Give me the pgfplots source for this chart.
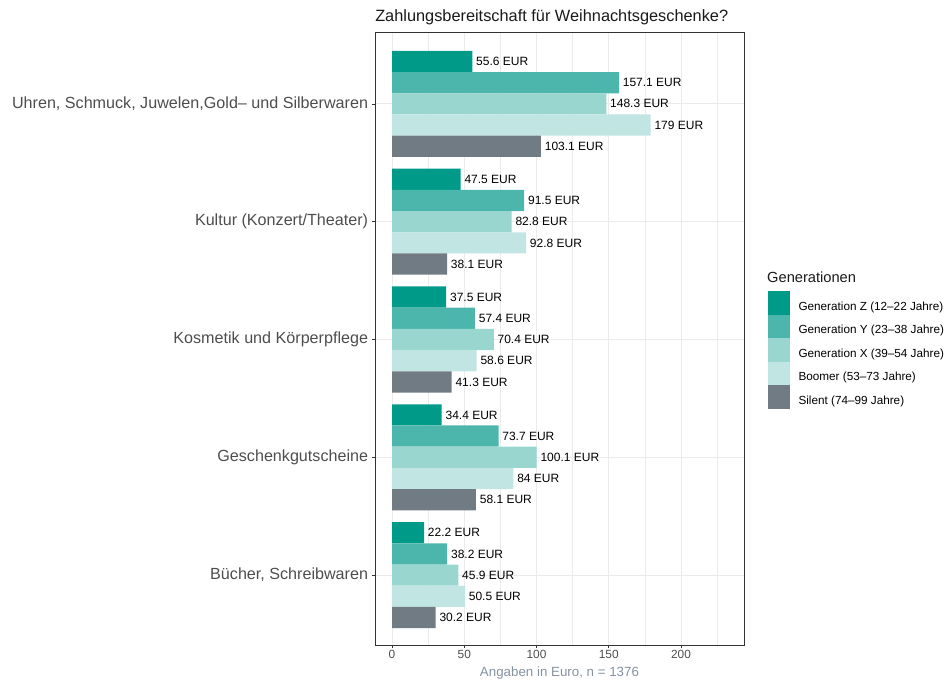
\documentclass[border=0pt]{standalone}
\usepackage{fontspec}
\setmainfont{Liberation Sans}
\usepackage{pgfplots}
\usepackage{pgfplotstable}
\pgfplotsset{compat=1.18}

\definecolor{genZ}{RGB}{0,154,136}
\definecolor{genY}{RGB}{76,182,172}
\definecolor{genX}{RGB}{153,214,207}
\definecolor{boomer}{RGB}{192,229,226}
\definecolor{silent}{RGB}{112,123,132}
\definecolor{gridgray}{RGB}{235,235,235}
\definecolor{ticktext}{RGB}{77,77,77}
\definecolor{xlabgray}{RGB}{133,146,160}

% pos: Buecher=1 ... Uhren=5
\pgfplotstableread{
pos Z     Y     X     B     S
1   22.2  38.2  45.9  50.5  30.2
2   34.4  73.7  100.1 84    58.1
3   37.5  57.4  70.4  58.6  41.3
4   47.5  91.5  82.8  92.8  38.1
5   55.6  157.1 148.3 179   103.1
}\spend

\begin{document}
\begin{tikzpicture}
\begin{axis}[
    at={(0,0)}, anchor=south west,
    scale only axis,
    width=276.75pt, height=459.75pt,
    xbar, bar width=0.18,
    xmin=-11.8, xmax=243.6,
    ymin=0.407, ymax=5.61,
    xtick={0,50,100,150,200},
    minor xtick={25,75,125,175,225},
    ytick={1,2,3,4,5},
    yticklabels={{Bücher, Schreibwaren},Geschenkgutscheine,{Kosmetik und Körperpflege},{Kultur (Konzert/Theater)},{Uhren, Schmuck, Juwelen,Gold– und Silberwaren}},
    xtick pos=bottom, ytick pos=left,
    tick align=outside,
    major tick length=2.6pt,
    minor tick length=0pt,
    tick style={color=black!80, line width=0.5pt},
    xmajorgrids, ymajorgrids, xminorgrids,
    major grid style={gridgray, line width=0.75pt},
    minor grid style={gridgray, line width=0.4pt},
    axis line style={black!80, line width=0.7pt},
    /pgf/number format/assume math mode=true,
    xticklabel style={font=\fontsize{8.9}{10}\selectfont, text=ticktext, inner sep=1pt},
    yticklabel style={font=\fontsize{12.1}{14}\selectfont, text=ticktext, inner sep=0pt, xshift=-2.4pt},
    xlabel={Angaben in Euro, n = 1376},
    xlabel style={at={(axis description cs:0.5,0)}, anchor=base, yshift=-23.3pt,
        font=\fontsize{10}{12}\selectfont, text=xlabgray},
    point meta=x,
    nodes near coords={\pgfmathprintnumber[fixed,precision=1]{\pgfplotspointmeta} EUR},
    nodes near coords style={font=\fontsize{9}{10}\selectfont, text=black, anchor=west, inner sep=2.7pt},
    legend style={at={(axis description cs:1,0.5775)}, anchor=north west, xshift=18pt,
        draw=none, fill=none, inner sep=0pt, outer sep=0pt, row sep=0pt,
        nodes={inner sep=0pt}, font=\fontsize{8.8}{10}\selectfont,
        /tikz/every odd column/.append style={column sep=6.6pt}},
    legend cell align=left,
    legend image code/.code={
        \path (0pt,-5.75pt) rectangle (16.3pt,11.95pt);
        \fill[#1,draw=none] (0pt,-5.15pt) rectangle (16.3pt,11.35pt);
    },
    clip=false,
]
\addplot[fill=genZ, draw=none, bar shift=0.36] table[x=Z, y=pos] {\spend};
\addlegendentry{Generation Z (12–22 Jahre)}
\addplot[fill=genY, draw=none, bar shift=0.18] table[x=Y, y=pos] {\spend};
\addlegendentry{Generation Y (23–38 Jahre)}
\addplot[fill=genX, draw=none, bar shift=0] table[x=X, y=pos] {\spend};
\addlegendentry{Generation X (39–54 Jahre)}
\addplot[fill=boomer, draw=none, bar shift=-0.18] table[x=B, y=pos] {\spend};
\addlegendentry{Boomer (53–73 Jahre)}
\addplot[fill=silent, draw=none, bar shift=-0.36] table[x=S, y=pos] {\spend};
\addlegendentry{Silent (74–99 Jahre)}

\coordinate (bl) at (rel axis cs:0,0);
\node[anchor=base west, inner sep=0pt, font=\fontsize{12.25}{14}\selectfont, text=black!90]
    at ([yshift=8pt]rel axis cs:0,1) {Zahlungsbereitschaft für Weihnachtsgeschenke?};
\node[anchor=base west, inner sep=0pt, font=\fontsize{11}{13}\selectfont, text=black!90]
    at ([xshift=17.2pt]axis description cs:1,0.592) {Generationen};
\end{axis}
\pgfresetboundingbox
\path[use as bounding box] ([xshift=-281.25pt,yshift=-26.25pt]bl) rectangle ([xshift=432pt,yshift=483.75pt]bl);
\end{tikzpicture}
\end{document}
